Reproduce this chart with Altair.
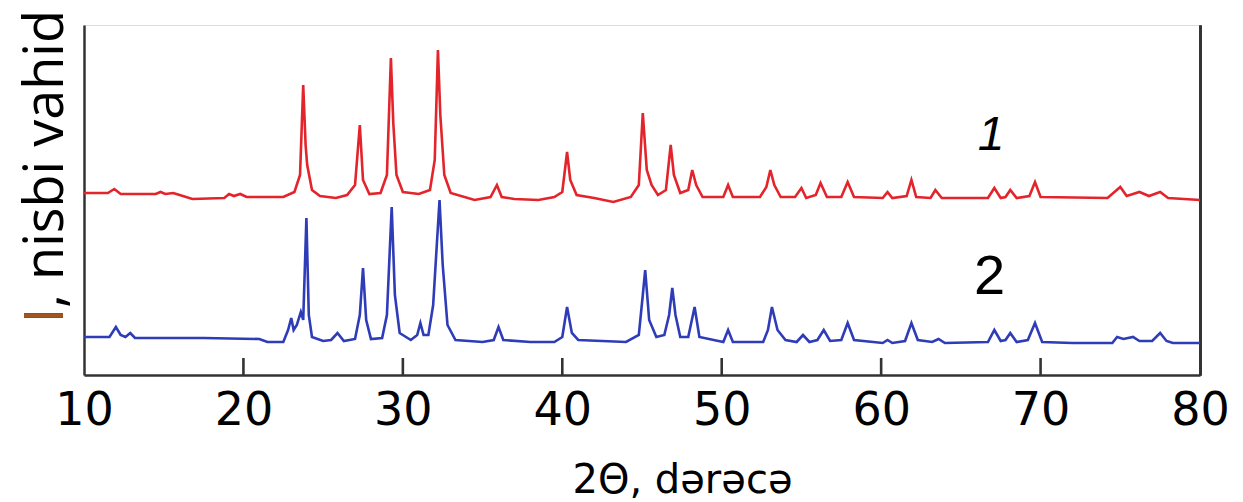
import altair as alt
import pandas as pd

# ---- data (2theta in degrees, intensity in arbitrary units) ----
red_2theta = [10, 11.5, 11.9, 12.3, 14.5, 14.8, 15.1, 15.6, 16.0, 16.8, 18.8, 19.1, 19.4, 19.8, 20.2,
              22.5, 23.2, 23.55, 23.75, 23.9, 24.0, 24.3, 24.8, 25.8, 26.5, 27.0, 27.3, 27.5, 27.9,
              28.6, 29.0, 29.25, 29.4, 29.6, 30.0, 31.0, 31.7, 32.0, 32.2, 32.35, 32.6, 33.0, 34.5,
              35.5, 35.9, 36.2, 37.0, 38.5, 39.5, 40.0, 40.3, 40.5, 40.9, 42.0, 43.2, 44.3, 44.8,
              45.05, 45.3, 45.6, 46.0, 46.5, 46.8, 47.0, 47.4, 47.9, 48.15, 48.4, 48.8, 50.1, 50.4,
              50.7, 52.4, 52.8, 53.05, 53.3, 53.7, 54.6, 55.0, 55.3, 55.9, 56.2, 56.6, 57.5, 57.9,
              58.3, 60.1, 60.4, 60.7, 61.6, 61.9, 62.2, 63.1, 63.4, 63.8, 66.7, 67.1, 67.5, 67.8,
              68.1, 68.5, 69.3, 69.65, 70.0, 74.2, 75.0, 75.4, 75.8, 76.2, 76.8, 77.5, 78.0, 80]
red_intensity = [182, 182, 186, 181, 181, 183, 181, 182, 180, 176, 177, 181, 179, 181, 178,
                 178, 183, 200, 290, 230, 210, 185, 179, 177, 180, 190, 250, 195, 181,
                 182, 200, 317, 252, 200, 183, 181, 185, 215, 325, 260, 200, 182, 175,
                 178, 190, 178, 176, 175, 178, 183, 223, 195, 180, 177, 173, 178, 190,
                 262, 205, 190, 180, 185, 230, 200, 182, 185, 205, 190, 178, 178, 190,
                 178, 178, 188, 205, 190, 178, 178, 187, 177, 180, 192, 178, 178, 193,
                 178, 177, 183, 177, 179, 195, 178, 177, 185, 177, 177, 187, 177, 178,
                 185, 177, 179, 193, 178, 177, 188, 179, 181, 183, 179, 183, 177, 175]

blue_2theta = [10, 11.6, 12.0, 12.3, 12.6, 12.9, 13.2, 15, 17.5, 21.0, 21.5, 22.5, 22.8, 23.0,
               23.15, 23.35, 23.6, 23.75, 23.95, 24.1, 24.3, 25.0, 25.5, 25.9, 26.3, 27.0, 27.3,
               27.5, 27.7, 28.0, 28.7, 29.0, 29.3, 29.5, 29.8, 30.5, 30.9, 31.1, 31.3, 31.6, 31.9,
               32.3, 32.5, 32.8, 33.3, 35.0, 35.7, 36.0, 36.3, 38.0, 39.5, 40.0, 40.3, 40.6, 41.0,
               44.0, 44.8, 45.05, 45.2, 45.45, 45.9, 46.4, 46.7, 46.9, 47.1, 47.4, 47.9, 48.3, 48.6,
               50.1, 50.4, 50.7, 52.6, 52.9, 53.15, 53.5, 54.0, 54.7, 55.1, 55.5, 56.0, 56.4, 56.8,
               57.5, 57.9, 58.3, 60.1, 60.4, 60.7, 61.5, 61.9, 62.3, 63.2, 63.6, 64.0, 66.7, 67.1,
               67.5, 67.8, 68.1, 68.5, 69.2, 69.65, 70.1, 72.0, 74.5, 74.8, 75.2, 75.8, 76.2, 77.0,
               77.5, 77.9, 78.3, 80]
blue_intensity = [38, 38, 48, 40, 38, 42, 37, 37, 37, 36, 33, 33, 45, 57,
                  45, 50, 63, 55, 157, 60, 38, 34, 35, 42, 34, 36, 60,
                  107, 55, 36, 37, 60, 168, 80, 42, 35, 40, 52, 40, 40, 70,
                  175, 110, 50, 35, 33, 35, 48, 35, 33, 33, 38, 68, 42, 35,
                  33, 40, 80, 105, 55, 38, 40, 60, 87, 60, 38, 38, 68, 38,
                  33, 45, 33, 33, 45, 68, 45, 35, 33, 40, 33, 35, 45, 34,
                  35, 52, 35, 32, 35, 32, 34, 52, 35, 33, 36, 32, 33, 45,
                  34, 35, 42, 33, 35, 52, 33, 32, 32, 38, 36, 38, 34, 34,
                  42, 34, 32, 32]

x_tick_values = [10, 20, 30, 40, 50, 60, 70, 80]
inner_tick_values = [20, 30, 40, 50, 60, 70]
curve_labels = ["1", "2"]
curve_label_x = [66.9, 66.8]
curve_label_y = [239, 98]

# ---- styling ----
W, H = 1116, 350
TICK_LEN = 17
FRAME = "#333333"
RED = "#e3242b"
BLUE = "#2e3cb8"

# red curve plus the inward tick segments, drawn by one line mark grouped by "s"
tick_names = ["tick%d" % v for v in inner_tick_values]
top_df = pd.DataFrame({
    "t": red_2theta + [v for v in inner_tick_values for _ in (0, 1)],
    "i": red_intensity + [e for _ in inner_tick_values for e in (0, TICK_LEN)],
    "s": ["red"] * len(red_2theta) + [n for n in tick_names for _ in (0, 1)],
})
blue_df = pd.DataFrame({"t": blue_2theta, "i": blue_intensity})
lab_df = pd.DataFrame({"lab": curve_labels, "t": curve_label_x, "i": curve_label_y})

xscale = alt.Scale(domain=[10, 80], nice=False, zero=False)
yscale = alt.Scale(domain=[0, H], nice=False, zero=False)

xaxis = alt.Axis(values=x_tick_values, ticks=False, grid=False, domain=True,
                 domainColor=FRAME, domainWidth=2.5, labelFont="DejaVu Sans",
                 labelFontSize=46, labelColor="black", labelPadding=13, labelFlush=False,
                 format="d", title="2Θ, dərəcə", titleFont="DejaVu Sans",
                 titleFontSize=40, titleFontWeight="normal", titleColor="black",
                 titleX=598, titleY=117, titleBaseline="alphabetic", titleAlign="center")
yaxis_left = alt.Axis(labels=False, ticks=False, grid=False, domain=True,
                      domainColor=FRAME, domainWidth=2.5, title=None)
yaxis_right = alt.Axis(orient="right", labels=False, ticks=False, grid=False, domain=True,
                       domainColor=FRAME, domainWidth=2.5, title=None)

X = alt.X("t:Q", scale=xscale, axis=xaxis)
Y_LEFT = alt.Y("i:Q", scale=yscale, axis=yaxis_left)

top = alt.Chart(top_df).mark_line(strokeWidth=2.6).encode(
    x=X, y=Y_LEFT,
    color=alt.Color("s:N", scale=alt.Scale(domain=["red"] + tick_names,
                                           range=[RED] + [FRAME] * len(tick_names)),
                    legend=None),
)
blue = alt.Chart(blue_df).mark_line(color=BLUE, strokeWidth=2.6).encode(
    x=X, y=alt.Y("i:Q", scale=yscale, axis=yaxis_right),
)
lab1 = alt.Chart(lab_df).transform_filter(alt.datum.lab == "1").mark_text(
    font="Liberation Sans", fontSize=48, fontStyle="italic", color="black",
    align="center", baseline="middle").encode(x=X, y=Y_LEFT, text="lab:N")
lab2 = alt.Chart(lab_df).transform_filter(alt.datum.lab == "2").mark_text(
    font="Liberation Sans", fontSize=56, color="black",
    align="center", baseline="middle").encode(x=X, y=Y_LEFT, text="lab:N")

ytitle_df = pd.DataFrame({"s": ["I, nisbi vahid"], "s1": ["I"]})
ytitle = alt.Chart(ytitle_df).mark_text(
    angle=270, align="left", baseline="alphabetic", font="Open Sans", fontSize=54,
    color="black").encode(x=alt.value(-21), y=alt.value(298), text="s:N")
ytitle_i = alt.Chart(ytitle_df).mark_text(
    angle=270, align="left", baseline="alphabetic", font="Open Sans", fontSize=54,
    color="#a0561e").encode(x=alt.value(-21), y=alt.value(298), text="s1:N")

chart = alt.layer(top, lab1, lab2, ytitle, ytitle_i, blue).resolve_axis(
    y="independent"
).properties(
    width=W, height=H,
    autosize=alt.AutoSizeParams(type="none"),
    padding={"left": 84, "top": 25, "right": 43, "bottom": 127},
).configure_view(stroke=None).configure(background="white")

chart.save("out.html", embed_options={"renderer": "svg", "actions": False})
